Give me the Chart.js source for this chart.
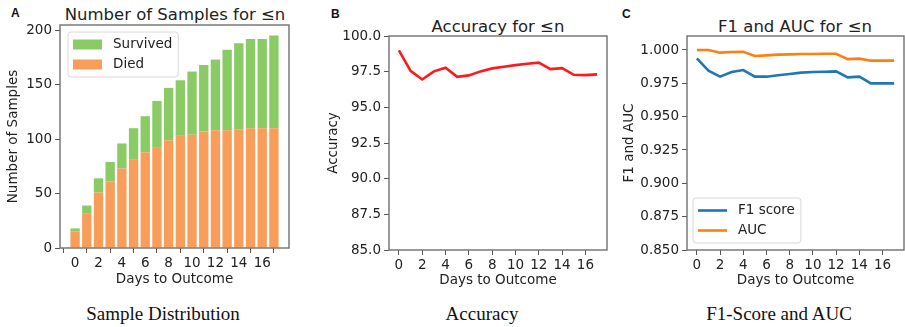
<!DOCTYPE html>
<html lang="en">
<head>
<meta charset="UTF-8">
<title>Samples, accuracy, F1 and AUC for n days</title>
<script src="https://cdn.jsdelivr.net/npm/chart.js"></script>
<style>
  body { margin: 0; background: #fff; }
  #wrap { position: relative; width: 905px; height: 327px; overflow: hidden; font-family: "DejaVu Sans", sans-serif; color: #222; }
  canvas { position: absolute; }
  .letter { position: absolute; font: bold 12px "Liberation Sans", Arial, sans-serif; line-height: 1; color: #111; }
  .title { position: absolute; font-size: 16.5px; line-height: 1; transform: translateX(-50%); white-space: nowrap; }
  .caption { position: absolute; font: 19px "Liberation Serif", "Times New Roman", serif; line-height: 1; transform: translateX(-50%); white-space: nowrap; color: #111; }
</style>
</head>
<body>
<div id="wrap">
  <div class="letter" style="left:11px; top:7px;">A</div>
  <div class="letter" style="left:331px; top:8px;">B</div>
  <div class="letter" style="left:622px; top:8px;">C</div>

  <div class="title" style="left:175px; top:7px;">Number of Samples for ≤n</div>
  <div class="title" style="left:498px; top:19px;">Accuracy for ≤n</div>
  <div class="title" style="left:795px; top:19px;">F1 and AUC for ≤n</div>

  <canvas id="samples" width="292" height="290" style="left:0; top:0;"></canvas>
  <canvas id="accuracy" width="290" height="291" style="left:320px; top:0;"></canvas>
  <canvas id="scores" width="289" height="291" style="left:616px; top:0;"></canvas>

  <div class="caption" style="left:163px; top:304px;">Sample Distribution</div>
  <div class="caption" style="left:482px; top:304px;">Accuracy</div>
  <div class="caption" style="left:779px; top:304px;">F1-Score and AUC</div>
</div>

<script>
// data
const days = [0, 1, 2, 3, 4, 5, 6, 7, 8, 9, 10, 11, 12, 13, 14, 15, 16, 17];
const died = [15, 32, 51, 61, 73, 81, 88, 92, 99, 103, 104, 107, 108, 108, 109, 110, 110, 110];
const survived = [3, 7, 13, 18, 23, 29, 33, 43, 48, 51, 58, 61, 65, 74, 79, 82, 82, 85];
const accuracy = [98.99, 97.56, 96.95, 97.52, 97.78, 97.14, 97.24, 97.52, 97.73, 97.85, 97.96, 98.06, 98.13, 97.68, 97.75, 97.28, 97.26, 97.31];
const f1Score = [0.9937, 0.9845, 0.980, 0.9835, 0.985, 0.980, 0.980, 0.981, 0.982, 0.983, 0.9835, 0.9837, 0.984, 0.9795, 0.980, 0.975, 0.975, 0.975];
const auc = [1.0, 1.0, 0.998, 0.9985, 0.9987, 0.9955, 0.996, 0.9965, 0.9967, 0.997, 0.997, 0.9972, 0.9972, 0.9932, 0.9935, 0.992, 0.992, 0.992];

const dayTicks = [0, 2, 4, 6, 8, 10, 12, 14, 16];
const sampleTicks = [0, 50, 100, 150, 200];
const accuracyTicks = [85, 87.5, 90, 92.5, 95, 97.5, 100];
const scoreTicks = [0.85, 0.875, 0.9, 0.925, 0.95, 0.975, 1.0];

const textColor = '#222';
const tickFont = { family: 'DejaVu Sans', size: 13.5 };
const labelFont = { family: 'DejaVu Sans', size: 13.5 };

// matplotlib draws a box round the axes
const framePlugin = {
  id: 'frame',
  afterDraw(chart) {
    const { ctx, chartArea: a } = chart;
    ctx.save();
    ctx.strokeStyle = '#707070';
    ctx.lineWidth = 1.4;
    ctx.strokeRect(a.left, a.top, a.right - a.left, a.bottom - a.top);
    ctx.restore();
  }
};

// legend drawn inside the plot area, like matplotlib's
const boxLegend = {
  id: 'boxLegend',
  afterDraw(chart, args, o) {
    if (!o || !o.corner) return;
    const { ctx, chartArea: a } = chart;
    const items = chart.data.datasets.slice();
    if (o.reverse) items.reverse();
    ctx.save();
    ctx.font = '13.5px "DejaVu Sans"';
    const textW = Math.max(...items.map(d => ctx.measureText(d.label).width));
    const rowH = 20, handleW = 29, pad = 5;
    const w = pad + handleW + 11 + textW + 6;
    const h = items.length * rowH + 5;
    const x = a.left + o.dx;
    const y = o.corner === 'top' ? a.top + o.dy : a.bottom - o.dy - h;
    ctx.fillStyle = 'rgba(255,255,255,0.85)';
    ctx.strokeStyle = '#d8d8d8';
    ctx.lineWidth = 1;
    ctx.beginPath();
    ctx.roundRect(x, y, w, h, 3);
    ctx.fill();
    ctx.stroke();
    items.forEach((d, i) => {
      const cy = y + 2.5 + rowH * i + rowH / 2;
      if (o.style === 'patch') {
        ctx.fillStyle = d.backgroundColor;
        ctx.fillRect(x + pad, cy - 5, handleW, 10);
      } else {
        ctx.strokeStyle = d.borderColor;
        ctx.lineWidth = d.borderWidth;
        ctx.beginPath();
        ctx.moveTo(x + pad, cy);
        ctx.lineTo(x + pad + handleW, cy);
        ctx.stroke();
      }
      ctx.fillStyle = textColor;
      ctx.textBaseline = 'middle';
      ctx.fillText(d.label, x + pad + handleW + 11, cy);
    });
    ctx.restore();
  }
};

function xAxis(min, max, height) {
  return {
    type: 'linear',
    min: min,
    max: max,
    offset: false,
    afterBuildTicks: axis => { axis.ticks = dayTicks.map(v => ({ value: v })); },
    afterFit: axis => { axis.height = height; },
    grid: { drawOnChartArea: false, drawTicks: true, tickLength: 5, color: '#555' },
    border: { display: false },
    ticks: { color: textColor, font: tickFont, padding: 2, maxRotation: 0, autoSkip: false },
    title: { display: true, text: 'Days to Outcome', color: textColor, font: labelFont, padding: { top: 0, bottom: 2 } }
  };
}

function yAxis(min, max, tickValues, decimals, width, label) {
  return {
    min: min,
    max: max,
    afterBuildTicks: axis => { axis.ticks = tickValues.map(v => ({ value: v })); },
    afterFit: axis => { axis.width = width; },
    grid: { drawOnChartArea: false, drawTicks: true, tickLength: 5, color: '#555' },
    border: { display: false },
    ticks: {
      color: textColor, font: tickFont, padding: 3,
      callback: v => decimals === 0 ? String(v) : Number(v).toFixed(decimals)
    },
    title: { display: true, text: label, color: textColor, font: labelFont, padding: { top: 5, bottom: 0 } }
  };
}

const common = {
  responsive: false,
  animation: false,
  events: []
};

new Chart(document.getElementById('samples'), {
  type: 'bar',
  data: {
    labels: days,
    datasets: [
      { label: 'Died', data: died, backgroundColor: '#f99d5b', categoryPercentage: 1, barPercentage: 0.8 },
      { label: 'Survived', data: survived, backgroundColor: '#8acb66', categoryPercentage: 1, barPercentage: 0.8 }
    ]
  },
  options: {
    ...common,
    layout: { padding: { top: 25, right: 3, left: 0, bottom: 0 } },
    scales: {
      x: { ...xAxis(-1.29, 18.29, 42), stacked: true },
      y: { ...yAxis(0, 204.75, sampleTicks, 0, 60, 'Number of Samples'), stacked: true }
    },
    plugins: {
      legend: { display: false },
      tooltip: { enabled: false },
      boxLegend: { corner: 'top', dx: 8, dy: 7, style: 'patch', reverse: true }
    }
  },
  plugins: [framePlugin, boxLegend]
});

new Chart(document.getElementById('accuracy'), {
  type: 'line',
  data: {
    labels: days,
    datasets: [
      { label: 'Accuracy', data: accuracy, borderColor: '#ff1a1a', borderWidth: 2.6, pointRadius: 0, tension: 0, fill: false }
    ]
  },
  options: {
    ...common,
    layout: { padding: { top: 36, right: 3, left: 0, bottom: 0 } },
    scales: {
      x: xAxis(-0.85, 17.85, 41),
      y: yAxis(85, 100, accuracyTicks, 1, 69, 'Accuracy')
    },
    plugins: {
      legend: { display: false },
      tooltip: { enabled: false }
    }
  },
  plugins: [framePlugin, boxLegend]
});

new Chart(document.getElementById('scores'), {
  type: 'line',
  data: {
    labels: days,
    datasets: [
      { label: 'F1 score', data: f1Score, borderColor: '#1f77b4', borderWidth: 2.6, pointRadius: 0, tension: 0, fill: false },
      { label: 'AUC', data: auc, borderColor: '#ff7f0e', borderWidth: 2.6, pointRadius: 0, tension: 0, fill: false }
    ]
  },
  options: {
    ...common,
    layout: { padding: { top: 36, right: 1, left: 0, bottom: 0 } },
    scales: {
      x: xAxis(-0.85, 17.85, 41),
      y: yAxis(0.85, 1.0105, scoreTicks, 3, 71, 'F1 and AUC')
    },
    plugins: {
      legend: { display: false },
      tooltip: { enabled: false },
      boxLegend: { corner: 'bottom', dx: 6, dy: 7, style: 'line' }
    }
  },
  plugins: [framePlugin, boxLegend]
});
</script>
</body>
</html>
